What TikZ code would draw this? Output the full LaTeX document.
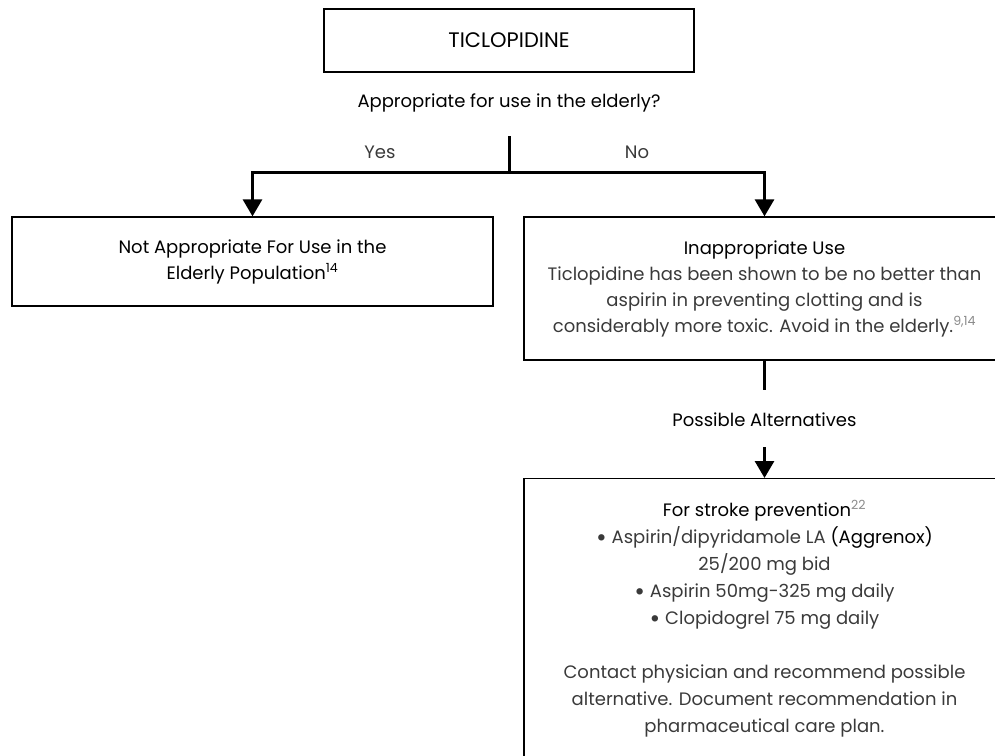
\documentclass[tikz,border=0pt]{standalone}
\usepackage{fontspec}
\setmainfont{Poppins}
\usetikzlibrary{arrows.meta}
\definecolor{bodygray}{HTML}{3A3A3A}
\definecolor{refgray}{HTML}{8A8A8A}
\tikzstyle{box}=[draw, line width=1.3pt, minimum width=481pt, inner sep=0pt, align=center, font=\fontsize{18}{26}\selectfont]
\tikzstyle{link}=[line width=3pt]
\tikzstyle{dlink}=[link,-{Triangle[width=19pt,length=17pt]}]
\tikzstyle{labelsty}=[font=\fontsize{18}{26}\selectfont, inner sep=0pt]
\newcommand{\body}[1]{\textcolor{bodygray}{#1}}
\newcommand{\refnum}[2][refgray]{\textsuperscript{\textcolor{#1}{#2}}}
\newcommand{\dotitem}{{\fontsize{26}{26}\selectfont\raisebox{-3.5pt}{\textbullet}}}

\begin{document}
\begin{tikzpicture}[x=1pt,y=-1pt]
\useasboundingbox (0,0) rectangle (995,755);
\clip (0,0) rectangle (995,755);

\node[box, minimum width=370pt, minimum height=63pt, font=\fontsize{21}{26}\selectfont] (drug) at (509,40.5) {TICLOPIDINE};
\node[labelsty] (question) at (509,103) {Appropriate for use in the elderly?};
\coordinate (stem) at (509,136);
\coordinate (split) at (509,172);
\node[labelsty] (yes) at (380,152) {\body{Yes}};
\node[labelsty] (no) at (637,152) {\body{No}};

\node[box, minimum height=89pt] (notapp) at (252.5,261.5)
  {Not Appropriate For Use in the\\Elderly Population\refnum[black]{14}};
\node[box, minimum height=143pt] (inapp) at (764.5,288.5)
  {Inappropriate Use\\
   \body{Ticlopidine has been shown to be no better than}\\
   \body{aspirin in preventing clotting and is}\\
   \body{considerably more toxic. Avoid in the elderly.\refnum{9,14}}};

\coordinate (altstem) at (764.5,390);
\node[labelsty] (alts) at (764.5,420) {Possible Alternatives};
\coordinate (alttop) at (764.5,447);

\node[box, anchor=north, inner ysep=22pt, text depth=80pt, font=\fontsize{18}{27}\selectfont] (options) at (764.5,478)
  {For stroke prevention\refnum{22}\\
   \body{\dotitem{} Aspirin/dipyridamole LA} (Aggrenox)\\
   \body{25/200 mg bid}\\
   \body{\dotitem{} Aspirin 50mg-325 mg daily}\\
   \body{\dotitem{} Clopidogrel 75 mg daily}\\[27pt]
   \body{Contact physician and recommend possible}\\
   \body{alternative. Document recommendation in}\\
   \body{pharmaceutical care plan.}};

\draw[link] (stem) -- (split);
\draw[dlink] (split) -| (notapp.north);
\draw[dlink] (split) -| (inapp.north);
\draw[link] (inapp.south) -- (altstem);
\draw[dlink] (alttop) -- (options.north);

\end{tikzpicture}
\end{document}
